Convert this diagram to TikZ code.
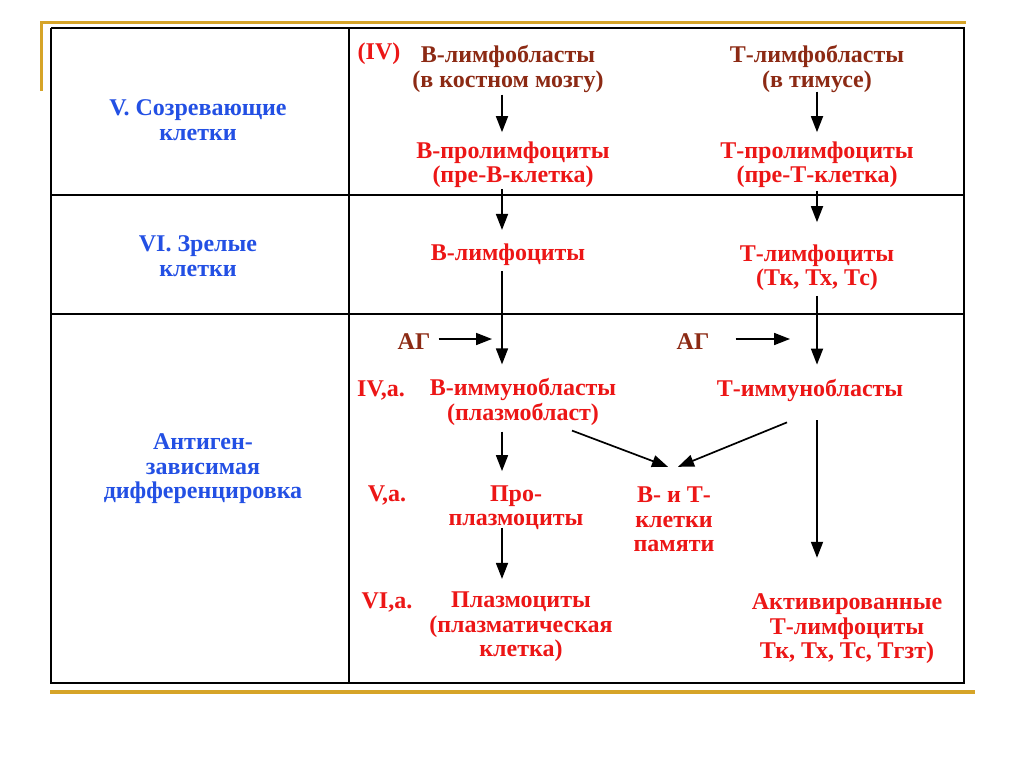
\documentclass[tikz,border=0pt]{standalone}
\usepackage{fontspec}
\setmainfont{Liberation Serif}
\usetikzlibrary{arrows.meta}
\definecolor{gold}{RGB}{214,164,40}
\definecolor{tblue}{RGB}{35,80,228}
\definecolor{tred}{RGB}{236,22,22}
\definecolor{tbrown}{RGB}{140,42,20}
\begin{document}
\begin{tikzpicture}[x=1pt,y=-1pt,
  txt/.style={font=\bfseries\fontsize{24}{24.5}\selectfont, align=center, inner sep=0pt},
  bluet/.style={txt, text=tblue},
  redt/.style={txt, text=tred},
  brownt/.style={txt, text=tbrown},
  tbl/.style={line width=1.4pt, black},
  goldline/.style={gold, line width=3pt},
  arr/.style={-{Triangle[length=16pt,width=12pt]}, line width=1.7pt, black}]
\useasboundingbox[fill=white] (0,0) rectangle (1024,767);
% gold frame decoration
\draw[goldline] (41,91) -- (41,23) -- (966,23);
\draw[goldline, line width=3.5pt] (50,692) -- (975,692);
% table
\draw[tbl] (51,28) -- (964,28) -- (964,683);
\draw[tbl] (51,683) -- (51,28);
\draw[line width=2.6pt] (50,683) -- (965,683);
\draw[tbl] (349,28) -- (349,683);
\draw[tbl] (51,195) -- (964,195);
\draw[tbl] (51,314) -- (964,314);
% left column
\node[bluet] (v5) at (198,120) {V. Созревающие\\клетки};
\node[bluet] (v6) at (198,256) {VI. Зрелые\\клетки};
\node[bluet] (ag) at (203,469) {Антиген-\\зависимая\\дифференцировка};
% stage labels
\node[redt] (iv) at (379,54) {(IV)};
\node[redt] (iva) at (381,390) {IV,а.};
\node[redt] (va) at (387,495) {V,а.};
\node[redt] (via) at (387,602) {VI,а.};
% B line
\node[brownt] (bl) at (508,69) {В-лимфобласты\\(в костном мозгу)};
\node[redt] (bp) at (513,164.5) {В-пролимфоциты\\(пре-В-клетка)};
\node[redt] (bly) at (508,255) {В-лимфоциты};
\node[redt] (bi) at (523,402) {В-иммунобласты\\(плазмобласт)};
\node[redt] (pp) at (516,507.5) {Про-\\плазмоциты};
\node[redt] (pc) at (521,627) {Плазмоциты\\(плазматическая\\клетка)};
% T line
\node[brownt] (tl) at (817,69) {Т-лимфобласты\\(в тимусе)};
\node[redt] (tp) at (817,164.5) {Т-пролимфоциты\\(пре-Т-клетка)};
\node[redt] (tly) at (817,267.5) {Т-лимфоциты\\(Тк, Тх, Тс)};
\node[redt] (ti) at (810,390) {Т-иммунобласты};
\node[redt] (at) at (847,629) {Активированные\\Т-лимфоциты\\Тк, Тх, Тс, Тгзт)};
\node[redt] (mem) at (674,519.5) {В- и Т-\\клетки\\памяти};
% antigen
\node[brownt] (agB) at (414,342) {АГ};
\node[brownt] (agT) at (693,342) {АГ};
\coordinate (agBend) at (492,339);
\coordinate (agTend) at (790,339);
% arrow columns
\coordinate (bx) at (502,0);
\coordinate (tx) at (817,0);
% arrows
\draw[arr, shorten <=2pt, shorten >=9pt] (bl.south -| bx) -- (bp.north -| bx);
\draw[arr, shorten <=-1pt, shorten >=9pt] (tl.south -| tx) -- (tp.north -| tx);
\draw[arr, shorten <=1pt, shorten >=14pt] (bp.south -| bx) -- (bly.north -| bx);
\draw[arr, shorten <=3pt, shorten >=22pt] (tp.south -| tx) -- (tly.north -| tx);
\draw[arr, shorten <=5pt, shorten >=14pt] (bly.south -| bx) -- (bi.north -| bx);
\draw[arr, shorten <=5pt, shorten >=14pt] (tly.south -| tx) -- (ti.north -| tx);
\draw[arr, shorten <=8pt] (agB.east |- agBend) -- (agBend);
\draw[arr, shorten <=26pt] (agT.east |- agTend) -- (agTend);
\draw[arr, shorten <=6pt, shorten >=14pt] (bi.south -| bx) -- (pp.north -| bx);
\draw[arr] ([shift={(49,5)}]bi.south) -- ([shift={(-6,-20)}]mem.north);
\draw[arr] ([shift={(-23,21)}]ti.south) -- ([shift={(4,-20)}]mem.north);
\draw[arr, shorten <=19pt, shorten >=36pt] (ti.south -| tx) -- (at.north -| tx);
\draw[arr, shorten <=-2pt, shorten >=13pt] (pp.south -| bx) -- (pc.north -| bx);
\end{tikzpicture}
\end{document}
